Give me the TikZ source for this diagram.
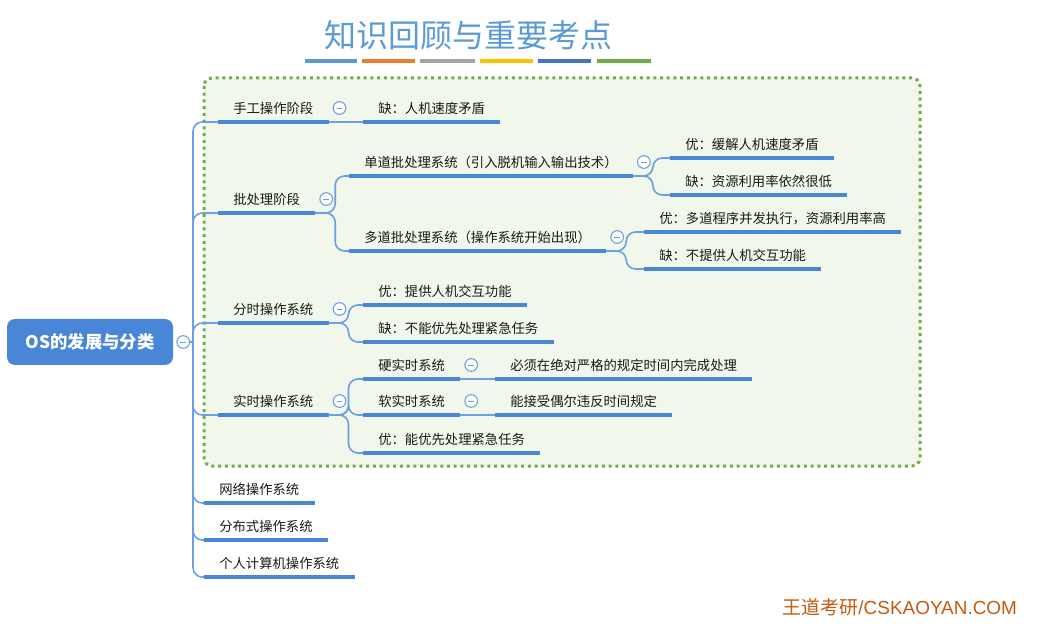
\documentclass[tikz,border=0pt]{standalone}
\usepackage{fontspec}
\setmainfont{Noto Sans CJK SC}
\newfontfamily\arialfont{Liberation Sans}
\usepackage{xcolor}
\usetikzlibrary{positioning, calc}

\definecolor{lineblue}{HTML}{4A86D8}
\definecolor{linkblue}{HTML}{6C9FE2}
\definecolor{titleblue}{HTML}{5B9BD5}
\definecolor{barorange}{HTML}{ED7D31}
\definecolor{bargray}{HTML}{A5A5A5}
\definecolor{baryellow}{HTML}{FFC000}
\definecolor{bardblue}{HTML}{4472C4}
\definecolor{boxgreen}{HTML}{70AD47}
\definecolor{boxfill}{HTML}{F1F7EA}
\definecolor{markorange}{HTML}{C55A11}

\begin{document}
\begin{tikzpicture}[x=0.75pt,y=-0.75pt,
    topic/.style={anchor=south west, inner xsep=11.25pt, inner ysep=6.5pt,
      text depth=0pt, text=black!90, font=\fontsize{10}{12}\selectfont},
    root/.style={fill=lineblue, rounded corners=6pt, text=white,
      minimum width=124.5pt, minimum height=34.5pt,
      font=\bfseries\fontsize{13}{15}\selectfont},
    fold/.style={circle, draw=linkblue, fill=white, line width=0.8pt,
      minimum size=9.5pt, inner sep=0pt,
      path picture={\draw[linkblue, line width=0.7pt]
        ([xshift=-2.2pt]path picture bounding box.center) --
        ([xshift=2.2pt]path picture bounding box.center);}},
    link/.style={draw=linkblue, line width=1.2pt, rounded corners=7pt},
    uline/.style={draw=lineblue, line width=3pt}]
  \useasboundingbox (0,0) rectangle (1052,630);

  % title and colour bars
  \node[text=titleblue, font=\fontsize{24}{28}\selectfont] (title) at (468,35) {知识回顾与重要考点};
  \foreach \xa/\xb/\c in {305/357/titleblue, 362/415/barorange, 420/475/bargray,
      480/533/baryellow, 538/591/bardblue, 597/651/boxgreen}
    \fill[\c] (\xa,59) rectangle (\xb,63);

  % green frame
  \draw[boxgreen, fill=boxfill, line width=2.25pt, dash pattern=on 2.25pt off 2.8pt,
    rounded corners=6pt] (204,78) rectangle (920,466);

  % root
  \node[root] (os) at (90,342) {OS的发展与分类};
  \coordinate (hub) at (193,342);

  % first level
  \node[topic] (a1) at (218,122) {手工操作阶段};
  \node[topic] (a2) at (218,213) {批处理阶段};
  \node[topic] (a3) at (218,323) {分时操作系统};
  \node[topic] (a4) at (218,415) {实时操作系统};
  \node[topic] (a5) at (204,503) {网络操作系统};
  \node[topic] (a6) at (204,540) {分布式操作系统};
  \node[topic] (a7) at (204,577) {个人计算机操作系统};

  % second level
  \node[topic] (b1) at (363,122) {缺：人机速度矛盾};
  \node[topic] (b2) at (349,176) {单道批处理系统（引入脱机输入输出技术）};
  \node[topic] (b3) at (349,251) {多道批处理系统（操作系统开始出现）};
  \node[topic] (b4) at (363,305) {优：提供人机交互功能};
  \node[topic] (b5) at (363,342) {缺：不能优先处理紧急任务};
  \node[topic] (b6) at (363,379) {硬实时系统};
  \node[topic] (b7) at (363,415) {软实时系统};
  \node[topic] (b8) at (363,453) {优：能优先处理紧急任务};

  % third level
  \node[topic] (c1) at (670,158) {优：缓解人机速度矛盾};
  \node[topic] (c2) at (670,195) {缺：资源利用率依然很低};
  \node[topic] (c3) at (644,232) {优：多道程序并发执行，资源利用率高};
  \node[topic] (c4) at (644,269) {缺：不提供人机交互功能};
  \node[topic] (c5) at (495,379) {必须在绝对严格的规定时间内完成处理};
  \node[topic] (c6) at (495,415) {能接受偶尔违反时间规定};

  \foreach \n in {a1,a2,a3,a4,a5,a6,a7,b1,b2,b3,b4,b5,b6,b7,b8,c1,c2,c3,c4,c5,c6}
    \draw[uline] (\n.south west) -- (\n.south east);

  % connectors
  \node[fold] (fos) at ($(os.east)+(10,0)$) {};
  \draw[link] (fos.east) -- (hub);
  \foreach \n in {a1,a2,a3,a4,a5,a6,a7}
    \draw[link] (hub) |- (\n.south west);

  \draw[link] (a1.south east) -- (b1.south west);
  \foreach \p/\c in {a2/b2, a2/b3, a3/b4, a3/b5, a4/b6, a4/b7, a4/b8,
      b2/c1, b2/c2, b3/c3, b3/c4}
    \draw[link] (\p.south east) -- ++(20,0) |- (\c.south west);
  \draw[link] (b6.south east) -- (c5.south west);
  \draw[link] (b7.south east) -- (c6.south west);

  \foreach \n in {a1,a2,a3,a4,b2,b3,b6,b7}
    \node[fold] (f\n) at ($(\n.south east)+(11,-14)$) {};

  % watermark
  \node[anchor=west, text=markorange, font=\fontsize{14.2}{17}\selectfont] (mark)
    at (778,607) {王道考研{\arialfont /CSKAOYAN.COM}};
\end{tikzpicture}
\end{document}
